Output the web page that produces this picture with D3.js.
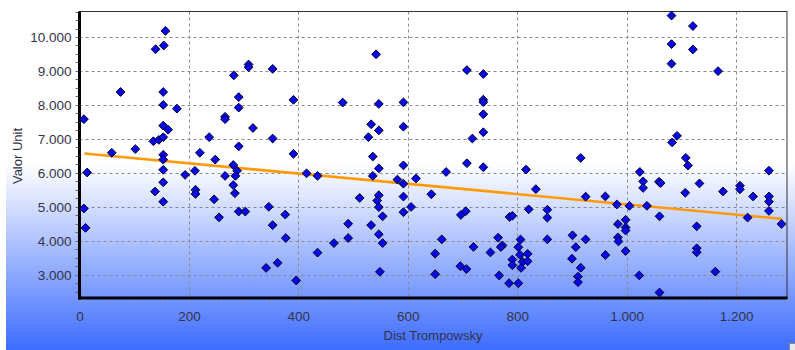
<!DOCTYPE html>
<html>
<head>
<meta charset="utf-8">
<script src="https://cdn.jsdelivr.net/npm/d3@7/dist/d3.min.js"></script>
<style>
  html, body { margin: 0; padding: 0; background: #fff; }
  svg { display: block; }
  text { font-family: "Liberation Sans", Arial, sans-serif; }
</style>
</head>
<body>
<svg id="chart" width="795" height="350"></svg>
<script>
// Distance (Dist Trompowsky) for each sample
const distValues = [
  8, 14, 8, 11, 59, 75, 102, 135, 139, 138, 145, 153, 153, 154, 157, 153, 153, 162, 153, 153,
  153, 153, 153, 178, 193, 211, 212, 212, 220, 237, 248, 246, 255, 266, 266, 266, 282, 281, 288, 285,
  281, 284, 291, 303, 291, 291, 291, 309, 309, 317, 353, 353, 391, 391, 415, 346, 353, 376, 377, 341,
  362, 396, 435, 435, 465, 481, 491, 491, 512, 542, 533, 528, 547, 547, 536, 547, 536, 547, 544, 547,
  554, 533, 547, 554, 549, 592, 592, 592, 581, 592, 592, 592, 606, 615, 643, 650, 650, 670, 708, 738,
  738, 738, 738, 738, 718, 708, 738, 697, 706, 662, 720, 696, 707, 751, 765, 773, 770, 767, 785, 802,
  786, 791, 806, 802, 805, 791, 791, 810, 807, 819, 819, 816, 834, 821, 855, 855, 855, 916, 925, 961,
  982, 1005, 1037, 1024, 1030, 1030, 1059, 1062, 1060, 901, 907, 925, 900, 916, 911, 911, 961, 984, 984, 985,
  998, 998, 998, 998, 1023, 1060, 1082, 1121, 1082, 1121, 1082, 1167, 1083, 1092, 1108, 1112, 1107, 1133, 1176, 1207,
  1207, 1231, 1260, 1260, 1260, 1260, 1221, 1283, 1128, 1128, 1128, 1162
];

// Unit value for each sample
const unitValues = [
  7580, 6010, 4950, 4380, 6590, 8380, 6700, 6930, 9640, 5450, 6970, 7050, 7390, 9750, 10180, 8380, 8000, 7270, 6530, 6390,
  6090, 5720, 5150, 7890, 5940, 6060, 5500, 5380, 6590, 7050, 6390, 5220, 4690, 7650, 7580, 5910, 8870, 6230, 6060, 5910,
  5640, 5400, 4860, 4860, 8230, 7920, 6780, 9190, 9110, 7320, 9060, 7010, 8150, 6560, 5985, 5000, 4460, 4770, 4080, 3200,
  3350, 2830, 5910, 3650, 3930, 8070, 4500, 4080, 5260, 9490, 7430, 7050, 8030, 7250, 6480, 6130, 5910, 5340, 5180, 4990,
  4720, 4460, 4190, 3930, 3085, 8075, 7358, 6220, 5800, 5680, 5300, 4840, 4995, 5834, 5370, 3620, 3015, 6025, 9025, 8910,
  8155, 8080, 7725, 7195, 7010, 6283, 6165, 4760, 4872, 4040, 3817, 3250, 3165, 3655, 4090, 3860, 3815, 2978, 2750, 2748,
  4700, 4735, 4035, 3812, 3585, 3445, 3280, 3380, 3200, 3615, 3395, 6095, 5520, 4925, 4914, 4680, 4040, 6440, 5298, 5305,
  5068, 5028, 5028, 6025, 5750, 5555, 5736, 5697, 4720, 4160, 3812, 4040, 3470, 3205, 2942, 2780, 3580, 4490, 4100, 3980,
  4617, 4390, 4300, 3695, 2978, 2475, 10630, 10322, 9790, 9633, 9214, 8995, 6895, 7090, 6440, 6215, 5412, 5688, 5453, 5620,
  5515, 5304, 6063, 5304, 5151, 4879, 4682, 4494, 4425, 3778, 3660, 3090
];

// Linear trend endpoints (distance, value)
const trendDist = [9, 1284];
const trendValue = [6568, 4644];

// Axis tick values
const xTicks = [0, 200, 400, 600, 800, 1000, 1200];
const yTicks = [3000, 4000, 5000, 6000, 7000, 8000, 9000, 10000];

const W = 795, H = 350;
const plot = { left: 79.5, right: 787, top: 11.5, bottom: 298 };

const svg = d3.select("#chart");

// Thousands separated with "."
const locale = d3.formatLocale({ decimal: ",", thousands: ".", grouping: [3], currency: ["", ""] });
const fmt = locale.format(",d");

// Background gradient: white at the top fading to blue at the bottom
const defs = svg.append("defs");
const grad = defs.append("linearGradient")
  .attr("id", "bg").attr("gradientUnits", "userSpaceOnUse")
  .attr("x1", 0).attr("y1", 0).attr("x2", 0).attr("y2", H);
grad.append("stop").attr("offset", "0%").attr("stop-color", "#ffffff");
grad.append("stop").attr("offset", "47%").attr("stop-color", "#ffffff");
grad.append("stop").attr("offset", "100%").attr("stop-color", "#3d6cff");

svg.append("rect").attr("x", 0).attr("y", 0).attr("width", W).attr("height", H).attr("fill", "#ffffff");
svg.append("rect").attr("x", 6).attr("y", 0).attr("width", W - 6).attr("height", H).attr("fill", "url(#bg)");

const x = d3.scaleLinear().domain([0, 1293]).range([plot.left, plot.right]);
const y = d3.scaleLinear().domain([2314, 10751]).range([plot.bottom, plot.top]);

// Dashed grid
const grid = svg.append("g").attr("stroke", "#8a8a8a").attr("stroke-width", 1).attr("stroke-dasharray", "3,3");
grid.selectAll("line.h").data(yTicks).join("line")
  .attr("x1", plot.left).attr("x2", plot.right)
  .attr("y1", d => Math.round(y(d)) + 0.5).attr("y2", d => Math.round(y(d)) + 0.5);
grid.selectAll("line.v").data(xTicks.filter(d => d > 0)).join("line")
  .attr("y1", plot.top).attr("y2", plot.bottom)
  .attr("x1", d => Math.round(x(d)) + 0.5).attr("x2", d => Math.round(x(d)) + 0.5);

// Minor ticks
const minorX = d3.range(0, 1293, 50);
svg.append("g").selectAll("line").data(minorX).join("line")
  .attr("x1", d => Math.round(x(d)) + 0.5).attr("x2", d => Math.round(x(d)) + 0.5)
  .attr("y1", plot.bottom).attr("y2", plot.bottom + 4)
  .attr("stroke", "#999").attr("stroke-width", 1);
const minorY = d3.range(2500, 10751, 250);
svg.append("g").selectAll("line").data(minorY).join("line")
  .attr("y1", d => Math.round(y(d)) + 0.5).attr("y2", d => Math.round(y(d)) + 0.5)
  .attr("x1", plot.left - 4).attr("x2", plot.left)
  .attr("stroke", "#666").attr("stroke-width", 1);

// Frame: thin top/right, heavy left/bottom
svg.append("rect")
  .attr("x", plot.left).attr("y", plot.top)
  .attr("width", plot.right - plot.left).attr("height", plot.bottom - plot.top)
  .attr("fill", "none").attr("stroke", "#333").attr("stroke-width", 1);
svg.append("line").attr("x1", plot.left).attr("x2", plot.left)
  .attr("y1", plot.top).attr("y2", plot.bottom + 1.5)
  .attr("stroke", "#000").attr("stroke-width", 3);
svg.append("line").attr("x1", plot.left - 1.5).attr("x2", plot.right + 0.5)
  .attr("y1", plot.bottom).attr("y2", plot.bottom)
  .attr("stroke", "#000").attr("stroke-width", 3);

// Axis labels via d3 axes
const xAxis = d3.axisBottom(x).tickValues(xTicks).tickFormat(fmt).tickSize(0).tickPadding(13);
const gx = svg.append("g").attr("transform", `translate(0,${plot.bottom})`).call(xAxis);
gx.select(".domain").remove();
gx.selectAll("text").attr("font-size", 13.5).attr("fill", "#33334a").attr("font-family", "Liberation Sans, Arial, sans-serif");

const yAxis = d3.axisLeft(y).tickValues(yTicks).tickFormat(fmt).tickSize(0).tickPadding(8);
const gy = svg.append("g").attr("transform", `translate(${plot.left},0)`).call(yAxis);
gy.select(".domain").remove();
gy.selectAll("text").attr("font-size", 13.5).attr("fill", "#33334a").attr("font-family", "Liberation Sans, Arial, sans-serif");

// Axis titles
svg.append("text").attr("x", 433).attr("y", 340)
  .attr("text-anchor", "middle").attr("font-size", 13).attr("fill", "#33334a")
  .text("Dist Trompowsky");
svg.append("text").attr("transform", "translate(22,156) rotate(-90)")
  .attr("text-anchor", "middle").attr("font-size", 13).attr("fill", "#33334a")
  .text("Valor Unit");

// Trend line
const trend = trendDist.map((d, i) => [d, trendValue[i]]);
svg.append("path")
  .attr("d", d3.line().x(d => x(d[0])).y(d => y(d[1]))(trend))
  .attr("fill", "none").attr("stroke", "#ff9a0a").attr("stroke-width", 2.6);

// Diamond markers
const r = 4.4;
const pts = distValues.map((d, i) => [d, unitValues[i]]);
svg.append("g").selectAll("path").data(pts).join("path")
  .attr("d", d => {
    const cx = x(d[0]), cy = y(d[1]);
    return `M${cx},${cy - r}L${cx + r},${cy}L${cx},${cy + r}L${cx - r},${cy}Z`;
  })
  .attr("fill", "#0808e6").attr("stroke", "#000030").attr("stroke-width", 1);

// Resize grip in the corner
svg.append("rect").attr("x", 789.5).attr("y", 343.5).attr("width", 6).attr("height", 7)
  .attr("fill", "#e8e8e8").attr("stroke", "#888").attr("stroke-width", 1);
</script>
</body>
</html>
